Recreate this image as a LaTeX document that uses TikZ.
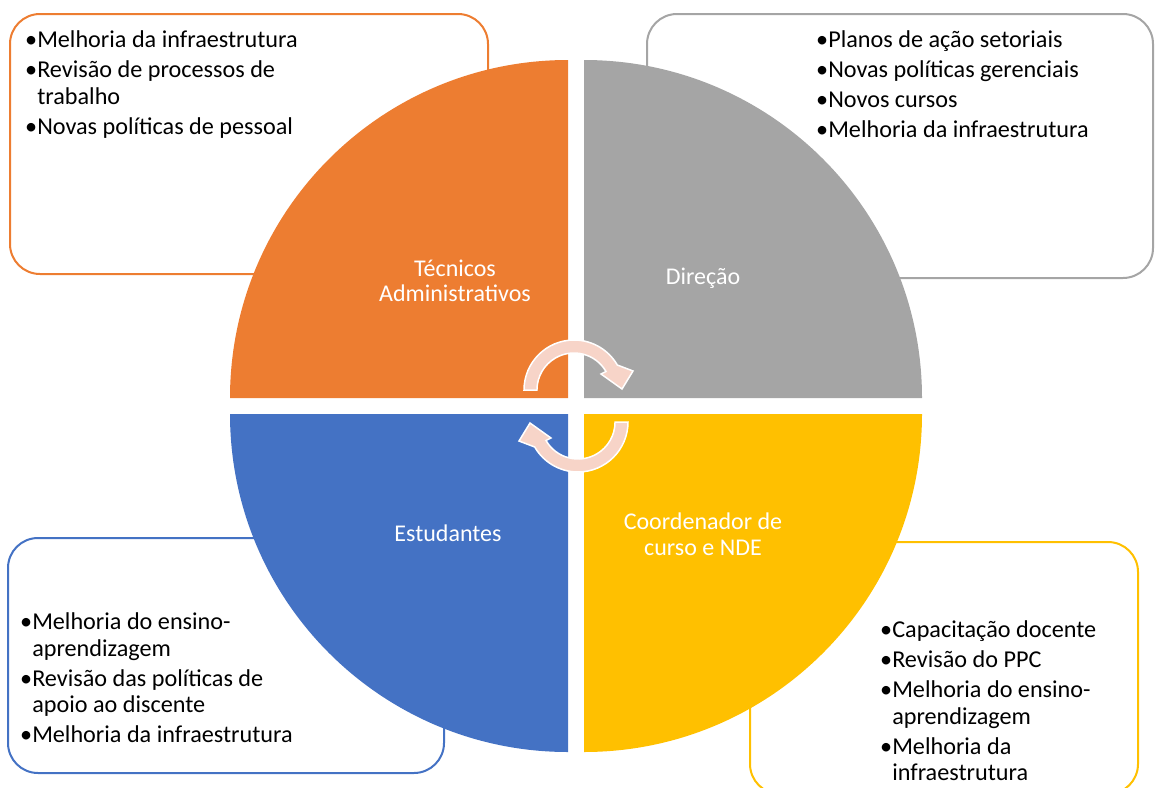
\documentclass[tikz,border=0pt]{standalone}
\usepackage{fontspec}
\setmainfont{Carlito}
\definecolor{taorange}{HTML}{ED7D31}
\definecolor{dirgray}{HTML}{A5A5A5}
\definecolor{estblue}{HTML}{4472C4}
\definecolor{coordyellow}{HTML}{FFC000}
\definecolor{cyclepink}{HTML}{F7D4C8}
\newcommand{\bul}{\strut\textbullet}
\newcommand{\ind}{\hphantom{\textbullet}}
\tikzset{
  listbox/.style={line width=2pt, rounded corners=30pt},
  listtext/.style={anchor=north west, inner sep=0pt, align=left, font=\fontsize{24.2}{26.4}\selectfont},
  sectorlabel/.style={text=white, align=center, font=\fontsize{24}{25.5}\selectfont},
  cyclearrow/.style={fill=cyclepink, draw=white, line width=1.5pt},
}

\begin{document}
\begin{tikzpicture}[x=1pt,y=-1pt]
\useasboundingbox (0,0) rectangle (1156,787);

% caixas de texto (atras do circulo)
\draw[listbox, taorange] (10,14) rectangle (488,274);
\draw[listbox, dirgray] (647,14) rectangle (1153,278);
\draw[listbox, estblue] (8,538) rectangle (444,773);
\draw[listbox, coordyellow] (750,542) rectangle (1138,794);

% quatro setores
\fill[taorange] (568,398) -- (230,398) arc (180:270:338) -- cycle;
\fill[dirgray] (584,398) -- (584,60) arc (270:360:338) -- cycle;
\fill[coordyellow] (584,414) -- (922,414) arc (0:90:338) -- cycle;
\fill[estblue] (568,414) -- (568,752) arc (90:180:338) -- cycle;

\node[sectorlabel] (talabel) at (455,281) {Técnicos\\Administrativos};
\node[sectorlabel] (dirlabel) at (703,278) {Direção};
\node[sectorlabel] (estlabel) at (448,533) {Estudantes};
\node[sectorlabel] (coordlabel) at (703,534) {Coordenador de\\curso e NDE};

% setas do ciclo
\foreach \rot in {0,180}{
  \begin{scope}[rotate around={\rot:(576,406)}]
    \path[cyclearrow] (524,390) arc (180:330:50) -- (633,371) -- (622,389)
      -- (601,374) -- (606,371.5) arc (330:180:37) -- cycle;
  \end{scope}
}

% listas (topo = linha de base - 18.5)
\node[listtext] (tatext) at (25,29) {\bul Melhoria da infraestrutura\\[3.6pt]
  \bul Revisão de processos de\\ \ind trabalho\\[3.6pt]
  \bul Novas políticas de pessoal};
\node[listtext] (dirtext) at (816,29) {\bul Planos de ação setoriais\\[3.6pt]
  \bul Novas políticas gerenciais\\[3.6pt]
  \bul Novos cursos\\[3.6pt]
  \bul Melhoria da infraestrutura};
\node[listtext] (esttext) at (20,611) {\bul Melhoria do ensino-\\ \ind aprendizagem\\[3.6pt]
  \bul Revisão das políticas de\\ \ind apoio ao discente\\[3.6pt]
  \bul Melhoria da infraestrutura};
\node[listtext] (coordtext) at (880,619) {\bul Capacitação docente\\[3.6pt]
  \bul Revisão do PPC\\[3.6pt]
  \bul Melhoria do ensino-\\ \ind aprendizagem\\[3.6pt]
  \bul Melhoria da\\ \ind infraestrutura};
\end{tikzpicture}
\end{document}
